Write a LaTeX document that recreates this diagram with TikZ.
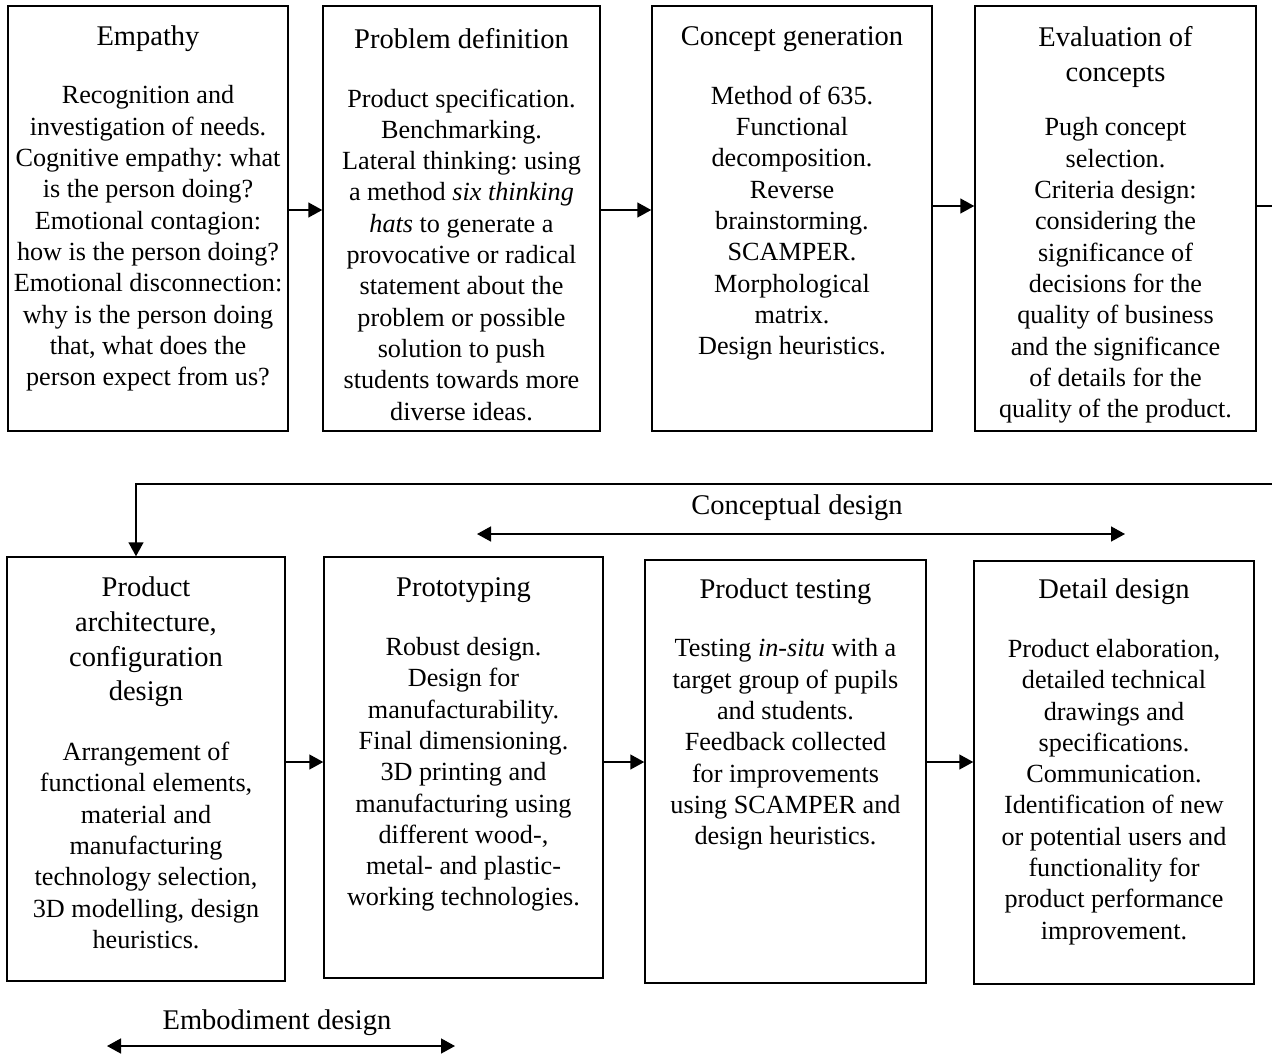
\documentclass[tikz,border=0pt]{standalone}
\usepackage{fontspec}
\setmainfont{Liberation Serif}
\usetikzlibrary{arrows.meta}
\frenchspacing
\tikzset{
  box/.style={draw, line width=1.5pt, rectangle, inner sep=0pt},
  ttl/.style={align=center, inner sep=0pt, font=\fontsize{28.5}{35.5}\selectfont},
  bdy/.style={align=center, inner sep=0pt, font=\fontsize{26.2}{31.3}\selectfont},
  lbl/.style={inner sep=0pt, font=\fontsize{28.5}{35}\selectfont},
  conn/.style={line width=1.5pt, -{Triangle[length=14pt,width=15pt]}},
  span/.style={line width=1.5pt, {Triangle[length=14pt,width=15pt]}-{Triangle[length=14pt,width=15pt]}},
  plain/.style={line width=1.5pt}
}
\begin{document}
\begin{tikzpicture}[x=1pt,y=-1pt]
\useasboundingbox (0,0) rectangle (1272,1053);
\fill[white] (0,0) rectangle (1272,1053);
\clip (0,0) rectangle (1272,1053);
% row 1 boxes
\node[box, minimum width=280pt, minimum height=425pt] (b1) at (148,218.5) {};
\node[box, minimum width=277pt, minimum height=425pt] (b2) at (461.5,218.5) {};
\node[box, minimum width=280pt, minimum height=425pt] (b3) at (792,218.5) {};
\node[box, minimum width=281pt, minimum height=425pt] (b4) at (1115.5,218.5) {};
% row 2 boxes
\node[box, minimum width=278pt, minimum height=424pt] (b5) at (146,769) {};
\node[box, minimum width=279pt, minimum height=421pt] (b6) at (463.5,767.5) {};
\node[box, minimum width=281pt, minimum height=423pt] (b7) at (785.5,771.5) {};
\node[box, minimum width=280pt, minimum height=423pt] (b8) at (1114,772.5) {};
% texts
\node[ttl] (t1) at (148,39) {Empathy};
\node[bdy] (x1) at (148,238.5) {Recognition and\\investigation of needs.\\Cognitive empathy: what\\is the person doing?\\Emotional contagion:\\how is the person doing?\\Emotional disconnection:\\why is the person doing\\that, what does the\\person expect from us?};
\node[ttl] (t2) at (461.5,39) {Problem definition};
\node[bdy] (x2) at (461.5,254.5) {Product specification.\\Benchmarking.\\Lateral thinking: using\\a method \textit{six thinking}\\\textit{hats} to generate a\\provocative or radical\\statement about the\\problem or possible\\solution to push\\students towards more\\diverse ideas.};
\node[ttl] (t3) at (792,39) {Concept generation};
\node[bdy] (x3) at (792,223) {Method of 635.\\Functional\\decomposition.\\Reverse\\brainstorming.\\SCAMPER.\\Morphological\\matrix.\\Design heuristics.};
\node[ttl] (t4) at (1115.5,57) {Evaluation of\\concepts};
\node[bdy] (x4) at (1115.5,270.5) {Pugh concept\\selection.\\Criteria design:\\considering the\\significance of\\decisions for the\\quality of business\\and the significance\\of details for the\\quality of the product.};
\node[ttl, font=\fontsize{28.5}{34.7}\selectfont] (t5) at (146,642) {Product\\architecture,\\configuration\\design};
\node[bdy] (x5) at (146,845.5) {Arrangement of\\functional elements,\\material and\\manufacturing\\technology selection,\\3D modelling, design\\heuristics.};
\node[ttl] (t6) at (463.5,590) {Prototyping};
\node[bdy] (x6) at (463.5,774.5) {Robust design.\\Design for\\manufacturability.\\Final dimensioning.\\3D printing and\\manufacturing using\\different wood-,\\metal- and plastic-\\working technologies.};
\node[ttl] (t7) at (785.5,592) {Product testing};
\node[bdy] (x7) at (785.5,744.5) {Testing \textit{in-situ} with a\\target group of pupils\\and students.\\Feedback collected\\for improvements\\using SCAMPER and\\design heuristics.};
\node[ttl] (t8) at (1114,592) {Detail design};
\node[bdy] (x8) at (1114,792) {Product elaboration,\\detailed technical\\drawings and\\specifications.\\Communication.\\Identification of new\\or potential users and\\functionality for\\product performance\\improvement.};
% labels
\node[lbl] (l1) at (797,508) {Conceptual design};
\node[lbl] (l2) at (277,1023) {Embodiment design};
% connectors row 1
\draw[conn] (b1.east |- 0,210) -- (b2.west |- 0,210);
\draw[conn] (b2.east |- 0,210) -- (b3.west |- 0,210);
\draw[conn] (b3.east |- 0,206) -- (b4.west |- 0,206);
% row 2
\draw[conn] (b5.east |- 0,762) -- (b6.west |- 0,762);
\draw[conn] (b6.east |- 0,762) -- (b7.west |- 0,762);
\draw[conn] (b7.east |- 0,762) -- (b8.west |- 0,762);
% loop
\coordinate (r1) at (1295,206);
\coordinate (r2) at (1295,484);
\coordinate (r3) at (136,484);
\draw[conn] (b4.east |- r1) -- (r1) -- (r2) -- (r3) -- (r3 |- b5.north);
% spans
\coordinate (s1) at (477,534);
\coordinate (s2) at (1125,534);
\draw[span] (s1) -- (s2);
\coordinate (s3) at (107,1046);
\coordinate (s4) at (455,1046);
\draw[span] (s3) -- (s4);
\end{tikzpicture}
\end{document}
